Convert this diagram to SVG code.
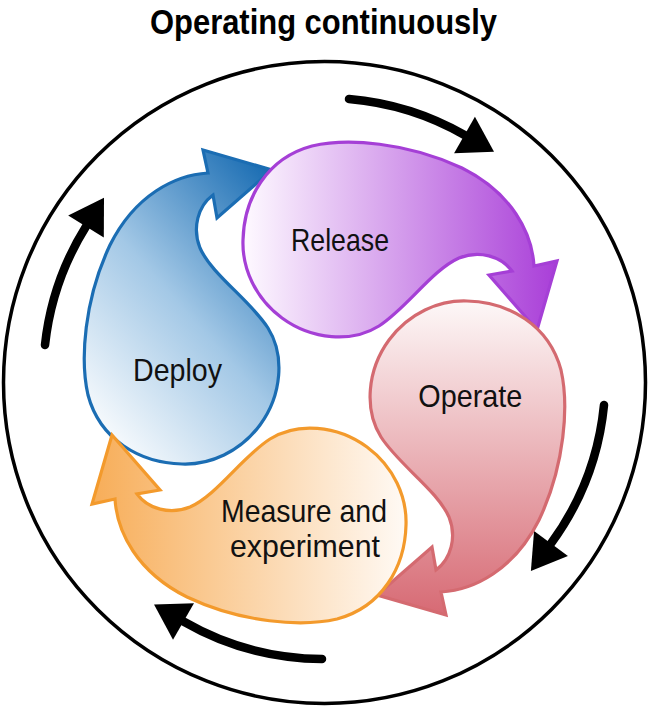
<svg xmlns="http://www.w3.org/2000/svg" xmlns:xlink="http://www.w3.org/1999/xlink" width="649" height="708" viewBox="0 0 649 708">
<style>
  .lbl { font-family: "Liberation Sans Narrow", "Liberation Sans", Arial, sans-serif; font-size: 32px; fill: #111; text-anchor: middle; }
  .title { font-family: "Liberation Sans Narrow", "Liberation Sans", Arial, sans-serif; font-size: 35px; font-weight: bold; fill: #000; text-anchor: middle; }
  .drop { stroke-width: 3.2; stroke-linejoin: miter; }
  .cyc { fill: none; stroke: #000; stroke-width: 8.5; stroke-linecap: round; marker-end: url(#bh); }
</style>
<defs>
  <path id="drop" d="M208,173 L203,150 L272,170 L217,218 L213,195 C198,206 192,228 200,248 C212,275 250,300 268,328 C285,355 282,395 260,425 C240,452 210,465 182,464 C140,463 100,440 88,395 C80,360 84,300 110,245 C135,195 175,175 208,173 Z"/>
  <linearGradient id="gDeploy" x1="0.15" y1="1" x2="0.85" y2="0">
    <stop offset="0" stop-color="#ffffff"/>
    <stop offset="0.5" stop-color="#a3c8e6"/>
    <stop offset="1" stop-color="#1a6db3"/>
  </linearGradient>
  <linearGradient id="gRelease" x1="0.5" y1="1" x2="0.5" y2="0">
    <stop offset="0" stop-color="#fefaff"/>
    <stop offset="1" stop-color="#a93ed8"/>
  </linearGradient>
  <linearGradient id="gOperate" x1="0.5" y1="1" x2="0.5" y2="0">
    <stop offset="0" stop-color="#fdf8f8"/>
    <stop offset="1" stop-color="#d76a74"/>
  </linearGradient>
  <linearGradient id="gMeasure" x1="0.5" y1="1" x2="0.5" y2="0">
    <stop offset="0" stop-color="#fffaf5"/>
    <stop offset="1" stop-color="#f7ad58"/>
  </linearGradient>
  <marker id="bh" markerUnits="userSpaceOnUse" viewBox="0 -21 34 42" markerWidth="34" markerHeight="42" refX="0" refY="0" orient="auto" overflow="visible">
    <path d="M0,-21 L34,0 L0,21 Z" fill="#000"/>
  </marker>
</defs>
<rect width="649" height="708" fill="#fff"/>
<text class="title" x="323.5" y="34" textLength="347" lengthAdjust="spacingAndGlyphs">Operating continuously</text>
<circle cx="324.5" cy="382.5" r="321" fill="none" stroke="#000" stroke-width="3.5"/>
<g id="connectors">
  <path class="cyc" d="M349,99 A281,281 0 0 1 464.5,135"/>
  <path class="cyc" d="M604,405 A281,281 0 0 1 551,543.5"/>
  <path class="cyc" d="M322,659 A281,281 0 0 1 183.5,621.5"/>
  <path class="cyc" d="M45,345 A281,281 0 0 1 86,226.5"/>
</g>
<g id="deploy">
  <use xlink:href="#drop" class="drop" fill="url(#gDeploy)" stroke="#1b6db3"/>
  <text class="lbl" x="177.5" y="381" textLength="89" lengthAdjust="spacingAndGlyphs">Deploy</text>
</g>
<g id="release">
  <use xlink:href="#drop" class="drop" transform="rotate(90 324.5 382.5)" fill="url(#gRelease)" stroke="#a53fd6"/>
  <text class="lbl" x="340" y="251" textLength="98" lengthAdjust="spacingAndGlyphs">Release</text>
</g>
<g id="operate">
  <use xlink:href="#drop" class="drop" transform="rotate(180 324.5 382.5)" fill="url(#gOperate)" stroke="#d46a70"/>
  <text class="lbl" x="470.3" y="407" textLength="104" lengthAdjust="spacingAndGlyphs">Operate</text>
</g>
<g id="measure">
  <use xlink:href="#drop" class="drop" transform="rotate(270 324.5 382.5)" fill="url(#gMeasure)" stroke="#f39a2c"/>
  <text class="lbl" x="304" y="521.5" textLength="166" lengthAdjust="spacingAndGlyphs">Measure and</text>
  <text class="lbl" x="305" y="556.5" textLength="150" lengthAdjust="spacingAndGlyphs">experiment</text>
</g>
</svg>
